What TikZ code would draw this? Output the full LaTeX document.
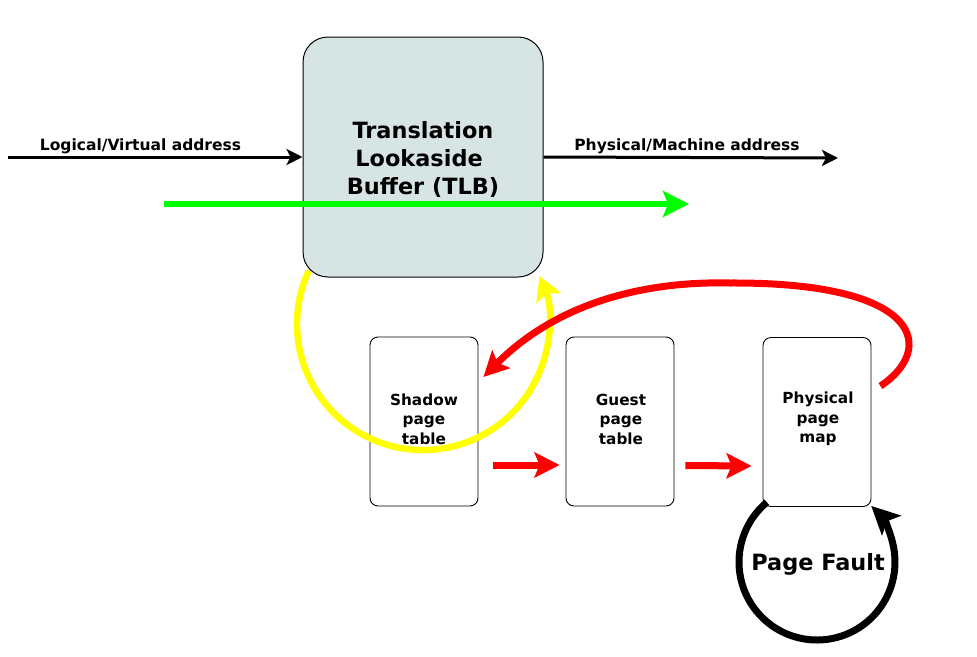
\documentclass[tikz,border=0pt]{standalone}
\usepackage{fontspec}
\setmainfont{DejaVu Sans}
\usetikzlibrary{arrows.meta,calc}
\definecolor{tlbfill}{RGB}{215,228,228}
\definecolor{vgreen}{RGB}{0,255,0}
\definecolor{vyellow}{RGB}{255,255,0}
\definecolor{vred}{RGB}{255,0,0}
\begin{document}
\begin{tikzpicture}[x=1pt,y=1pt,
  tlbbox/.style={draw=black, line width=1pt, fill=tlbfill, rounded corners=25pt,
    minimum width=240pt, minimum height=240pt, inner sep=0pt},
  tlbtext/.style={inner sep=0pt, align=center,
    font=\bfseries\fontsize{22.4}{28}\selectfont},
  tablebox/.style={draw=black, line width=0.9pt, rounded corners=8pt,
    minimum width=108pt, minimum height=169pt, inner sep=0pt},
  tabletext/.style={inner sep=0pt, align=center,
    font=\bfseries\fontsize{15.3}{19.5}\selectfont},
  addrarrow/.style={draw=black, line width=3pt, -{Stealth[length=16pt,width=16pt,inset=4pt]}},
  addrlabel/.style={font=\bfseries\fontsize{15.5}{18}\selectfont, inner sep=0pt},
  greenarrow/.style={draw=vgreen, line width=6pt, -{Stealth[length=26pt,width=26pt,inset=5pt]}},
  yellowarrow/.style={draw=vyellow, line width=6.5pt, -{Stealth[length=24pt,width=26pt,inset=5pt]}},
  redarrow/.style={draw=vred, line width=7pt, -{Stealth[length=25pt,width=25pt,inset=5pt]}},
  loopback/.style={draw=black, line width=7pt, -{Stealth[length=28pt,width=27pt,inset=6pt]}},
  faultlabel/.style={font=\bfseries\fontsize{22.4}{26}\selectfont, inner sep=0pt}
]
\useasboundingbox (0,0) rectangle (977,-656);

% TLB
\node[tlbbox] (tlb) at (423,-157) {};
\node[tlbtext] (tlblabel) at ($(tlb.center)+(0,-2.5)$) {Translation\\Lookaside\kern.35em\\Buffer (TLB)};

% tables
\node[tablebox] (shadow) at (424,-421.5) {};
\node[tablebox] (guest) at (620,-421.5) {};
\node[tablebox] (phys) at (817,-422) {};
\node[tabletext] (shadowlabel) at ($(shadow.center)+(0,2.5)$) {Shadow\\page\\table};
\node[tabletext] (guestlabel) at ($(guest.center)+(1,2.5)$) {Guest\\page\\table};
\node[tabletext] (physlabel) at ($(phys.center)+(1,3)$) {Physical\\page\\map};

% address arrows
\coordinate (vin) at (8,-157);
\coordinate (mout) at (838,-158);
\draw[addrarrow] (vin) -- (tlb.west);
\draw[addrarrow] (tlb.east) -- (mout);
\node[addrlabel] (vlabel) at (140.5,-146.5) {Logical/Virtual address};
\node[addrlabel] (mlabel) at (687,-146.5) {Physical/Machine address};

% green arrow through TLB
\coordinate (gstart) at (164,-204);
\coordinate (gend) at (689,-204);
\draw[greenarrow] (gstart) -- (gend);

% yellow loop from TLB back to TLB
\coordinate (yc) at (423,-324);
\draw[yellowarrow] ($(yc)+(155:126)$) arc[start angle=155, end angle=382.5, radius=126];

% red arrows between tables
\draw[redarrow] ($(shadow.east)+(15,-43.5)$) -- ($(guest.west)+(-6,-43.5)$);
\draw[redarrow] ($(guest.east)+(11,-44)$) -- ($(phys.west)+(-11,-44)$);

% red arc from physical map back to shadow table
\coordinate (rtop) at (730,-283);
\draw[redarrow] ($(phys.east)+(9,36)$) .. controls (935,-350) and (925,-282) .. (rtop)
  .. controls (650,-281) and (560,-300) .. ($(shadow.east)+(5,44.5)$);

% page fault loop
\coordinate (pfc) at (817,-562);
\draw[loopback] ($(pfc)+(130:78)$) arc[start angle=130, end angle=406, radius=78];
\node[faultlabel] (fault) at (818,-564.5) {Page Fault};
\end{tikzpicture}
\end{document}
